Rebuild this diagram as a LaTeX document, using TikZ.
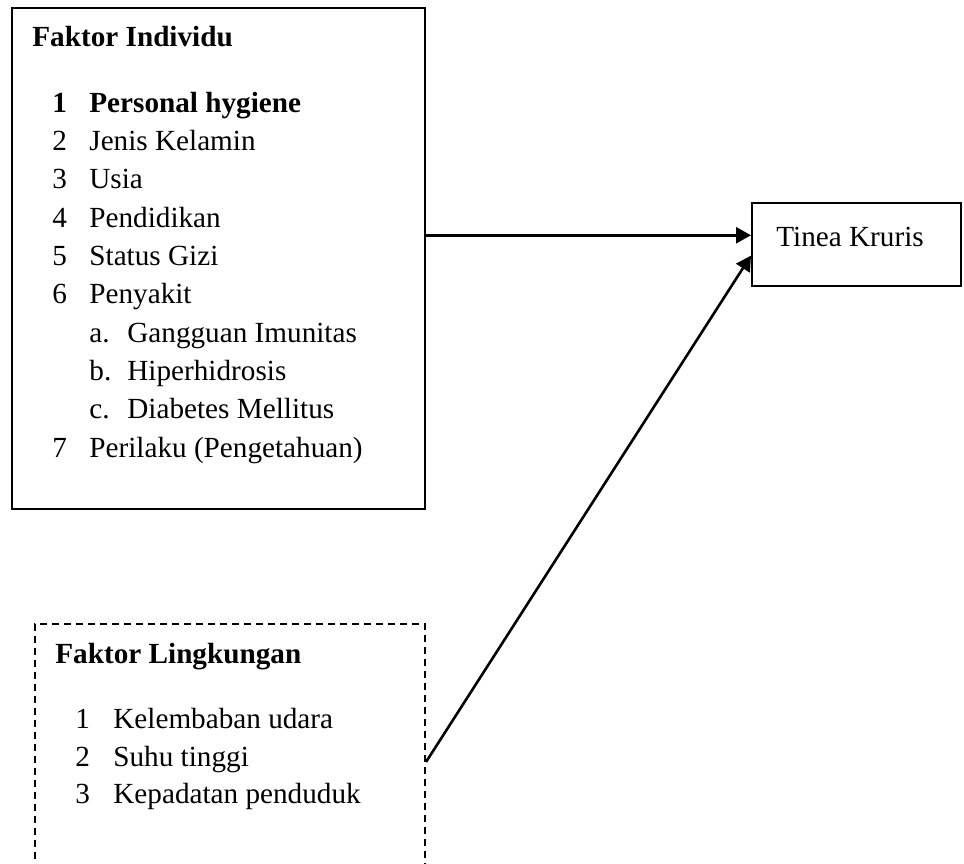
\documentclass[tikz,border=0pt]{standalone}
\usepackage{fontspec}
\setmainfont{Liberation Serif}
\usetikzlibrary{arrows.meta}

\tikzset{
  kotak/.style={draw, line width=1pt, rectangle, inner sep=0pt},
  teks/.style={anchor=base west, inner sep=0pt, font=\fontsize{14.6pt}{18pt}\selectfont},
  tebal/.style={anchor=base west, inner sep=0pt, font=\fontsize{14.6pt}{18pt}\selectfont\bfseries},
  panah/.style={line width=1.3pt, -{Triangle[length=7.5pt,width=8pt]}}
}

\begin{document}
\begin{tikzpicture}[x=0.5pt, y=-0.5pt]
\useasboundingbox (0,0) rectangle (964,863);
\clip (0,0) rectangle (964,863);
% kotak
\node [kotak, minimum width=206.5pt, minimum height=250.5pt] (individu) at (218.5,258.5) {};
\node [kotak, dash pattern=on 3.5pt off 2.5pt, minimum width=195pt, minimum height=138pt] (lingkungan) at (230,762) {};
\node [kotak, minimum width=104.5pt, minimum height=41.5pt] (tinea) at (856.5,244.5) {};
% faktor individu
\node [tebal] (fi) at (32,46) {Faktor Individu};
\node [tebal] (n1) at (52,112) {1};
\node [tebal] (t1) at (89,112) {Personal hygiene};
\node [teks] (n2) at (52,150.3) {2};
\node [teks] (t2) at (89,150.3) {Jenis Kelamin};
\node [teks] (n3) at (52,188.6) {3};
\node [teks] (t3) at (89,188.6) {Usia};
\node [teks] (n4) at (52,227) {4};
\node [teks] (t4) at (89,227) {Pendidikan};
\node [teks] (n5) at (52,265) {5};
\node [teks] (t5) at (89,265) {Status Gizi};
\node [teks] (n6) at (52,303.5) {6};
\node [teks] (t6) at (89,303.5) {Penyakit};
\node [teks] (na) at (89,342) {a.};
\node [teks] (ta) at (127,342) {Gangguan Imunitas};
\node [teks] (nb) at (89,380) {b.};
\node [teks] (tb) at (127,380) {Hiperhidrosis};
\node [teks] (nc) at (89,418.5) {c.};
\node [teks] (tc) at (127,418.5) {Diabetes Mellitus};
\node [teks] (n7) at (52,457) {7};
\node [teks] (t7) at (89,457) {Perilaku (Pengetahuan)};
% faktor lingkungan
\node [tebal] (fl) at (55,663) {Faktor Lingkungan};
\node [teks] (m1) at (75,728) {1};
\node [teks] (l1) at (113,728) {Kelembaban udara};
\node [teks] (m2) at (75,766.5) {2};
\node [teks] (l2) at (113,766.5) {Suhu tinggi};
\node [teks] (m3) at (75,803) {3};
\node [teks] (l3) at (113,803) {Kepadatan penduduk};
% hasil
\node [teks] (tk) at (776,246) {Tinea Kruris};
% panah
\draw [panah] (tinea.175.5 -| individu.east) -- (tinea.175.5);
\draw [panah] (lingkungan.east) -- (tinea.186);
\end{tikzpicture}
\end{document}
